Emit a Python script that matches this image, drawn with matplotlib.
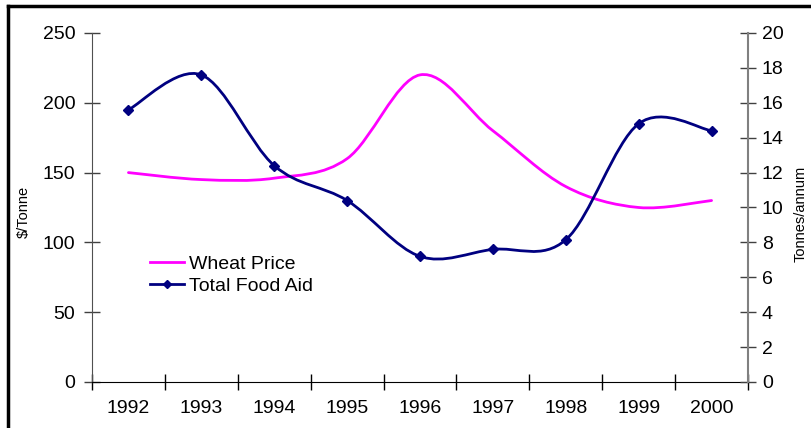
import numpy as np
import matplotlib.pyplot as plt
from matplotlib.path import Path
from matplotlib.patches import PathPatch
from matplotlib.lines import Line2D

plt.rcParams['font.family'] = ['Liberation Sans', 'DejaVu Sans']

years = ['1992', '1993', '1994', '1995', '1996', '1997', '1998', '1999', '2000']
wheat_price = [150, 145, 146, 160, 220, 180, 140, 125, 130]        # $/Tonne
food_aid = [15.6, 17.6, 12.4, 10.4, 7.2, 7.6, 8.15, 14.8, 14.4]    # Tonnes/annum

MAGENTA = '#FF00FF'
NAVY = '#000080'


def smooth_path(xs, ys):
    # cubic bezier through every point, spreadsheet-style smoothing
    xs = np.asarray(xs, float)
    ys = np.asarray(ys, float)
    px = np.concatenate([[xs[0]], xs, [xs[-1]]])
    py = np.concatenate([[ys[0]], ys, [ys[-1]]])
    verts = [(xs[0], ys[0])]
    codes = [Path.MOVETO]
    for i in range(1, len(xs)):
        j = i + 1
        c1 = (px[j - 1] + (px[j] - px[j - 2]) / 6, py[j - 1] + (py[j] - py[j - 2]) / 6)
        c2 = (px[j] - (px[j + 1] - px[j - 1]) / 6, py[j] - (py[j + 1] - py[j - 1]) / 6)
        verts += [c1, c2, (px[j], py[j])]
        codes += [Path.CURVE4] * 3
    return Path(verts, codes)


fig = plt.figure(figsize=(8.12, 4.28), dpi=100)
ax = fig.add_axes([0.1133, 0.1075, 0.8079, 0.8154])
ax2 = ax.twinx()

x = np.arange(len(years))

ax.add_patch(PathPatch(smooth_path(x, wheat_price), fill=False,
                       edgecolor=MAGENTA, lw=2, capstyle='round'))
ax2.add_patch(PathPatch(smooth_path(x, food_aid), fill=False,
                        edgecolor=NAVY, lw=2, capstyle='round'))
ax2.plot(x, food_aid, ls='none', marker='D', ms=5.5, color=NAVY)

ax.set_xlim(-0.5, len(years) - 0.5)
ax.set_ylim(0, 250)
ax2.set_ylim(0, 20)
ax.set_yticks(range(0, 251, 50))
ax2.set_yticks(range(0, 21, 2))

# category labels centred, tick marks on the boundaries
ax.set_xticks(np.arange(-0.5, len(years), 1))
ax.set_xticklabels([])
ax.set_xticks(x, minor=True)
ax.set_xticklabels(years, minor=True)
ax.tick_params(axis='x', which='major', direction='inout', length=11, width=1, color='black')
ax.tick_params(axis='x', which='minor', length=0, pad=13, labelsize=14)
ax.tick_params(axis='y', direction='inout', length=12, width=1, color='#404040',
               labelsize=14, pad=6)
ax2.tick_params(axis='y', direction='inout', length=12, width=1, color='#404040',
                labelsize=14, pad=4)

for a in (ax, ax2):
    a.spines['top'].set_visible(False)
ax.spines['right'].set_visible(False)
ax2.spines['left'].set_visible(False)
ax2.spines['bottom'].set_visible(False)
ax.spines['left'].set_color('#505050')
ax2.spines['right'].set_color('#808080')
ax2.spines['right'].set_linewidth(1.5)
ax.spines['bottom'].set_color('black')

fig.text(0.029, 0.505, '$/Tonne', rotation=90, ha='center', va='center', fontsize=10.5)
fig.text(0.986, 0.50, 'Tonnes/annum', rotation=90, ha='center', va='center', fontsize=10.5)

handles = [Line2D([], [], color=MAGENTA, lw=2),
           Line2D([], [], color=NAVY, lw=2, marker='D', ms=4)]
ax.legend(handles, ['Wheat Price', 'Total Food Aid'], loc='upper left',
          bbox_to_anchor=(0.076, 0.385), frameon=False, fontsize=14,
          handlelength=1.75, handletextpad=0.3, labelspacing=0.22, borderaxespad=0)

# frame edges of the chart area
fig.add_artist(Line2D([7.5 / 812, 7.5 / 812], [0, 1 - 6 / 428], color='black', lw=2.5))
fig.add_artist(Line2D([7.5 / 812, 1], [1 - 6 / 428, 1 - 6 / 428], color='black', lw=2.5))

fig.savefig('out.png', dpi=100)
